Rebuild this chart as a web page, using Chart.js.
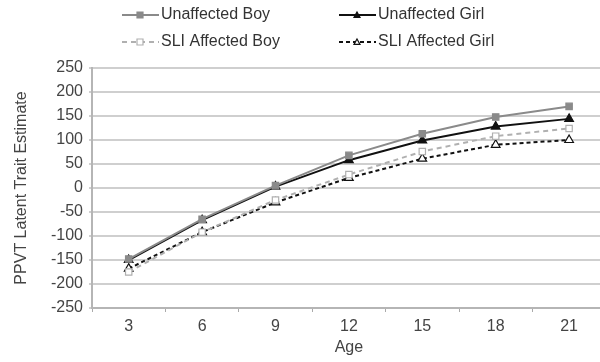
<!DOCTYPE html>
<html>
<head>
<meta charset="utf-8">
<script src="https://cdn.jsdelivr.net/npm/chart.js@4/dist/chart.umd.min.js"></script>
<style>
html, body { margin: 0; padding: 0; background: #fff; overflow: hidden; }
#wrap { width: 612px; height: 362px; }
</style>
</head>
<body>
<div id="wrap"><canvas id="ppvtChart"></canvas></div>
<script>
// data
const ages = ["3", "6", "9", "12", "15", "18", "21"];
const unaffectedBoy = [-148, -65, 5, 68, 113, 148, 170];
const unaffectedGirl = [-150, -67, 3, 58, 99, 128, 144];
const sliBoy = [-175, -92, -25, 28, 76, 108, 124];
const sliGirl = [-168, -92, -30, 21, 61, 90, 100];

const yMin = -250, yMax = 250, yStep = 50;
const FONT = "'Liberation Sans', Arial, sans-serif";

const series = [
    { label: "Unaffected Boy", data: unaffectedBoy, color: "#8a8a8a", dash: [], style: "rect", fill: "#8a8a8a", radius: 4.5 },
    { label: "Unaffected Girl", data: unaffectedGirl, color: "#111", dash: [], style: "triangle", fill: "#111", radius: 5 },
    { label: "SLI Affected Boy", data: sliBoy, color: "#b0b0b0", dash: [5, 4], style: "rect", fill: "#fff", radius: 4.5 },
    { label: "SLI Affected Girl", data: sliGirl, color: "#111", dash: [4, 3], style: "triangle", fill: "#fff", radius: 5 },
];

// legend in two columns, line sample with marker on it
const legendSpots = [
    { x: 122, y: 15 }, { x: 339, y: 15 },
    { x: 122, y: 42 }, { x: 339, y: 42 },
];

function drawMarker(ctx, s, x, y) {
    ctx.save();
    ctx.setLineDash([]);
    ctx.fillStyle = s.fill;
    ctx.strokeStyle = s.color;
    ctx.lineWidth = 1.2;
    ctx.beginPath();
    if (s.style === "rect") {
        ctx.rect(x - s.radius, y - s.radius, s.radius * 2, s.radius * 2);
    } else {
        const r = s.radius;
        ctx.moveTo(x, y - r);
        ctx.lineTo(x + r, y + r * 0.8);
        ctx.lineTo(x - r, y + r * 0.8);
        ctx.closePath();
    }
    ctx.fill();
    ctx.stroke();
    ctx.restore();
}

const legendPlugin = {
    id: "twoColLegend",
    afterDraw(chart) {
        const ctx = chart.ctx;
        series.forEach((s, i) => {
            const p = legendSpots[i];
            ctx.save();
            ctx.strokeStyle = s.color;
            ctx.lineWidth = 2;
            ctx.setLineDash(s.dash);
            ctx.beginPath();
            ctx.moveTo(p.x, p.y);
            ctx.lineTo(p.x + 37, p.y);
            ctx.stroke();
            ctx.restore();
            drawMarker(ctx, { ...s, radius: 3 }, p.x + 18, p.y);
            ctx.save();
            ctx.fillStyle = "#333";
            ctx.font = "16px " + FONT;
            ctx.textBaseline = "middle";
            ctx.fillText(s.label, p.x + 39, p.y);
            ctx.restore();
        });
    },
};

const ctx = document.getElementById("ppvtChart").getContext("2d");
new Chart(ctx, {
    type: "line",
    data: {
        labels: ages,
        datasets: series.map((s) => ({
            label: s.label,
            data: s.data,
            borderColor: s.color,
            borderWidth: 2,
            borderDash: s.dash,
            pointStyle: s.style,
            pointRadius: s.radius,
            pointBackgroundColor: s.fill,
            pointBorderColor: s.color,
            pointBorderWidth: 1.2,
            tension: 0,
            fill: false,
        })),
    },
    options: {
        responsive: true,
        maintainAspectRatio: false,
        animation: false,
        layout: { padding: { top: 68, right: 5, left: 0, bottom: 0 } },
        plugins: {
            legend: { display: false },
            tooltip: { enabled: false },
        },
        scales: {
            x: {
                offset: true,
                grid: {
                    offset: true,
                    drawOnChartArea: false,
                    drawTicks: true,
                    tickLength: 4,
                    color: "#aaa",
                },
                border: { color: "#b5b5b5", width: 2 },
                ticks: { color: "#444", font: { family: FONT, size: 16 }, padding: 5 },
                title: { display: true, text: "Age", color: "#444", font: { family: FONT, size: 16 }, padding: { top: 0, bottom: 5 } },
                afterFit: (s) => { s.height = 54; },
            },
            y: {
                min: yMin,
                max: yMax,
                ticks: { stepSize: yStep, color: "#444", font: { family: FONT, size: 16 }, padding: 6 },
                grid: { color: "#cfcfcf", lineWidth: 2, drawTicks: true, tickLength: 3 },
                border: { color: "#b5b5b5", width: 2 },
                title: { display: true, text: "PPVT Latent Trait Estimate", color: "#444", font: { family: FONT, size: 16 }, padding: { top: 12, bottom: 0 } },
                afterFit: (s) => { s.width = 92; },
            },
        },
    },
    plugins: [legendPlugin],
});
</script>
</body>
</html>
